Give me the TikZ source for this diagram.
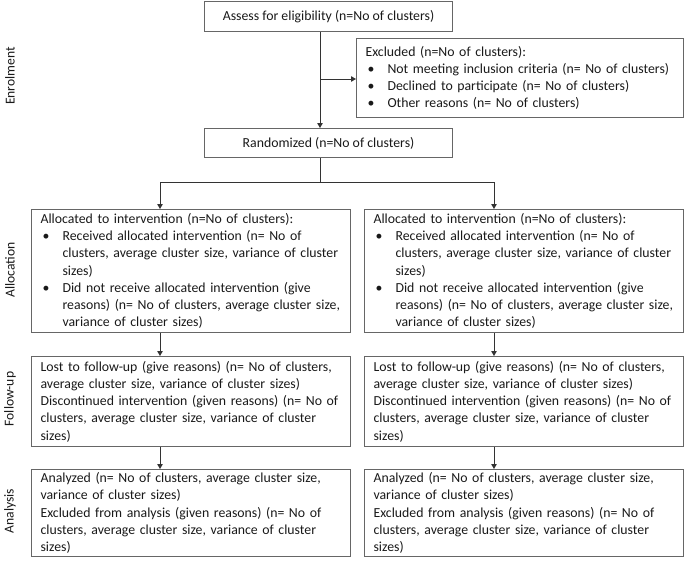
\documentclass[tikz,border=0pt]{standalone}
\usepackage{fontspec}
\setmainfont{Carlito}
\usetikzlibrary{arrows.meta,calc}
\hbadness=10000 \hfuzz=100pt
\newcommand{\bl}[1]{\mbox{\makebox[22pt][l]{\hspace{2pt}\textbullet}#1}}
\newcommand{\cl}[1]{\mbox{\hspace*{22pt}#1}}
\newcommand{\pl}[1]{\mbox{#1}}
\tikzset{
  boxstyle/.style={draw=black!60, line width=1.1pt, anchor=north west, inner xsep=9pt, inner ysep=0pt,
    align=left, font=\fontsize{13.8}{17.2}\selectfont, text=black!90},
  cbox/.style={draw=black!60, line width=1.1pt, anchor=north west, inner sep=0pt,
    align=center, font=\fontsize{13.8}{17.2}\selectfont, text=black!90},
  arr/.style={draw=black!80, line width=0.9pt, -{Triangle[width=5.5pt,length=5pt]}},
  ln/.style={draw=black!80, line width=0.9pt},
  side/.style={rotate=90, font=\fontsize{13.6}{16}\selectfont, text=black!90, anchor=center}
}
\begin{document}
\begin{tikzpicture}[x=1pt,y=-1pt]
\useasboundingbox (0,0) rectangle (685,560);
% boxes
\node[cbox, minimum width=248pt, minimum height=30pt] (assess) at (204,1) {Assess for eligibility (n=No of clusters)};
\node[boxstyle, minimum width=327pt, minimum height=79pt, text width=309pt] (excl) at (356,38) {%
\pl{Excluded (n=No of clusters):}\\
\bl{Not meeting inclusion criteria (n= No of clusters)}\\
\bl{Declined to participate (n= No of clusters)}\\
\bl{Other reasons (n= No of clusters)}};
\node[cbox, minimum width=248pt, minimum height=29pt] (rand) at (204,128) {Randomized (n=No of clusters)};
% allocation
\node[boxstyle, minimum width=319pt, minimum height=123pt, text width=301pt] (allocL) at (31,209) {%
\pl{Allocated to intervention (n=No of clusters):}\\
\bl{Received allocated intervention (n= No of}\\
\cl{clusters, average cluster size, variance of cluster}\\
\cl{sizes)}\\
\bl{Did not receive allocated intervention (give}\\
\cl{reasons) (n= No of clusters, average cluster size,}\\
\cl{variance of cluster sizes)}};
\node[boxstyle, minimum width=319pt, minimum height=123pt, text width=301pt] (allocR) at (364,209) {%
\pl{Allocated to intervention (n=No of clusters):}\\
\bl{Received allocated intervention (n= No of}\\
\cl{clusters, average cluster size, variance of cluster}\\
\cl{sizes)}\\
\bl{Did not receive allocated intervention (give}\\
\cl{reasons) (n= No of clusters, average cluster size,}\\
\cl{variance of cluster sizes)}};
% follow-up
\node[boxstyle, minimum width=319pt, minimum height=90pt, text width=301pt] (fuL) at (31,356) {%
\pl{Lost to follow-up (give reasons) (n= No of clusters,}\\
\pl{average cluster size, variance of cluster sizes)}\\
\pl{Discontinued intervention (given reasons) (n= No of}\\
\pl{clusters, average cluster size, variance of cluster}\\
\pl{sizes)}};
\node[boxstyle, minimum width=319pt, minimum height=90pt, text width=301pt] (fuR) at (364,356) {%
\pl{Lost to follow-up (give reasons) (n= No of clusters,}\\
\pl{average cluster size, variance of cluster sizes)}\\
\pl{Discontinued intervention (given reasons) (n= No of}\\
\pl{clusters, average cluster size, variance of cluster}\\
\pl{sizes)}};
% analysis
\node[boxstyle, minimum width=319pt, minimum height=87pt, text width=301pt] (anL) at (31,469) {%
\pl{Analyzed (n= No of clusters, average cluster size,}\\
\pl{variance of cluster sizes)}\\
\pl{Excluded from analysis (given reasons) (n= No of}\\
\pl{clusters, average cluster size, variance of cluster}\\
\pl{sizes)}};
\node[boxstyle, minimum width=319pt, minimum height=87pt, text width=301pt] (anR) at (364,469) {%
\pl{Analyzed (n= No of clusters, average cluster size,}\\
\pl{variance of cluster sizes)}\\
\pl{Excluded from analysis (given reasons) (n= No of}\\
\pl{clusters, average cluster size, variance of cluster}\\
\pl{sizes)}};
% side labels
\node[side] (lenrol) at (10,76) {Enrolment};
\node[side] (lalloc) at (10,270) {Allocation};
\node[side] (lfu) at (10,399) {Follow-up};
\node[side] (lan) at (10,511) {Analysis};
% connectors
\coordinate (trunk) at (320,0);
\coordinate (br) at (320,79);
\coordinate (sp) at (320,182);
\coordinate (cL) at (160,0);
\coordinate (cR) at (494,0);
\draw[arr] (assess.south -| trunk) -- (rand.north -| trunk);
\draw[arr] (br) -- (br -| excl.west);
\draw[ln] (rand.south -| sp) -- (sp);
\draw[arr] (sp) -| (allocL.north -| cL);
\draw[arr] (sp) -| (allocR.north -| cR);
\draw[arr] (allocL.south -| cL) -- (fuL.north -| cL);
\draw[arr] (allocR.south -| cR) -- (fuR.north -| cR);
\draw[arr] (fuL.south -| cL) -- (anL.north -| cL);
\draw[arr] (fuR.south -| cR) -- (anR.north -| cR);
\end{tikzpicture}
\end{document}
